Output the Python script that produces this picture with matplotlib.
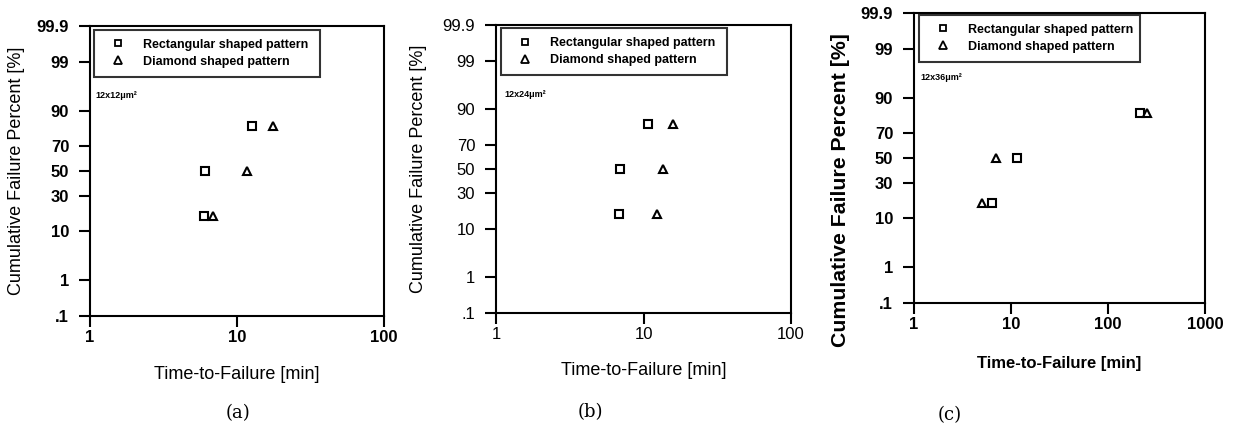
import numpy as np
import matplotlib
matplotlib.use("Agg")
import matplotlib.pyplot as plt
from matplotlib.lines import Line2D
from statistics import NormalDist

plt.rcParams['font.family'] = ['Liberation Sans', 'DejaVu Sans']

# ---------------- data ----------------
panel_ids = ['(a)', '(b)', '(c)']
panel_sizes = ['12x12μm²', '12x24μm²', '12x36μm²']
cum_percent = [16.7, 50.0, 83.3]

rect_a = [6.0, 6.1, 12.6]
diam_a = [6.9, 11.7, 17.5]
rect_b = [6.86, 6.96, 10.8]
diam_b = [12.3, 13.5, 15.9]
rect_c = [6.4, 11.6, 213.0]
diam_c = [5.0, 7.0, 250.0]

y_ticks = [0.1, 1, 10, 30, 50, 70, 90, 99, 99.9]
y_tick_labels = ['.1', '1', '10', '30', '50', '70', '90', '99', '99.9']
x_ticks_ab = [1, 10, 100]
x_ticks_c = [1, 10, 100, 1000]
legend_labels = ['Rectangular shaped pattern', 'Diamond shaped pattern']
xlabel = 'Time-to-Failure [min]'
ylabel = 'Cumulative Failure Percent [%]'

# -------------- normal probability scale --------------
_nd = NormalDist()
_ppf = np.vectorize(_nd.inv_cdf, otypes=[float])
_cdf = np.vectorize(_nd.cdf, otypes=[float])


def fwd(p):
    p = np.asarray(p, dtype=float)
    q = np.clip(p / 100.0, 1e-9, 1 - 1e-9)
    return _ppf(q)


def inv(z):
    return _cdf(np.asarray(z, dtype=float)) * 100.0


W, H = 1240, 433
fig = plt.figure(figsize=(W / 100, H / 100), dpi=100)


def px_axes(left, right, top, bottom):
    return fig.add_axes([left / W, 1 - bottom / H, (right - left) / W, (bottom - top) / H])


specs = [
    dict(box=(90, 384, 26, 316), rect=rect_a, diam=diam_a, xt=x_ticks_ab, xlim=(1, 100),
         tickw='bold', labw='normal', ylfs=13, xlfs=13, ylx=-0.249, yly=0.5, xly=-0.203,
         leg=(0.014, 0.986, 0.768), ann=(0.02, 0.762), pl=(238, 413)),
    dict(box=(496, 791, 25, 313), rect=rect_b, diam=diam_b, xt=x_ticks_ab, xlim=(1, 100),
         tickw='normal', labw='normal', ylfs=13, xlfs=13, ylx=-0.264, yly=0.5, xly=-0.198,
         leg=(0.017, 0.989, 0.765), ann=(0.03, 0.759), pl=(590, 412)),
    dict(box=(914, 1205, 13, 303), rect=rect_c, diam=diam_c, xt=x_ticks_c, xlim=(1, 1000),
         tickw='bold', labw='bold', ylfs=15.3, xlfs=12, ylx=-0.251, yly=0.39, xly=-0.207,
         leg=(0.017, 0.993, 0.76), ann=(0.023, 0.776), pl=(950, 415)),
]

for i, s in enumerate(specs):
    ax = px_axes(*s['box'])
    ax.set_xscale('log')
    ax.set_yscale('function', functions=(fwd, inv))
    ax.plot(s['rect'], cum_percent, linestyle='none', marker='s', markersize=5.8,
            markerfacecolor='white', markeredgecolor='black', markeredgewidth=1.5, clip_on=False)
    ax.plot(s['diam'], cum_percent, linestyle='none', marker='^', markersize=6.3,
            markerfacecolor='white', markeredgecolor='black', markeredgewidth=1.5, clip_on=False)
    ax.set_xlim(*s['xlim'])
    ax.set_ylim(0.1, 99.9)
    ax.set_xticks(s['xt'])
    ax.set_xticklabels([str(v) for v in s['xt']])
    ax.xaxis.set_minor_locator(matplotlib.ticker.NullLocator())
    ax.set_yticks(y_ticks)
    ax.set_yticklabels(y_tick_labels)
    ax.yaxis.set_minor_locator(matplotlib.ticker.NullLocator())
    ax.tick_params(axis='both', direction='out', length=8, width=1.5, labelsize=12)
    ax.tick_params(axis='y', pad=7)
    ax.tick_params(axis='x', pad=2)
    for lab in ax.get_xticklabels() + ax.get_yticklabels():
        lab.set_fontweight(s['tickw'])
    for sp in ax.spines.values():
        sp.set_linewidth(1.5)

    ax.text(0.5, s['xly'], xlabel, transform=ax.transAxes, ha='center', va='center',
            fontsize=s['xlfs'], fontweight=s['labw'])
    ax.text(s['ylx'], s['yly'], ylabel, transform=ax.transAxes, ha='center', va='center',
            rotation=90, fontsize=s['ylfs'], fontweight=s['labw'])

    handles = [Line2D([], [], linestyle='none', marker='s', markersize=4.8, markerfacecolor='white',
                      markeredgecolor='black', markeredgewidth=1.3),
               Line2D([], [], linestyle='none', marker='^', markersize=5.2, markerfacecolor='white',
                      markeredgecolor='black', markeredgewidth=1.3)]
    lx, ly, lw = s['leg']
    leg = ax.legend(handles, legend_labels, loc='upper left', bbox_to_anchor=(lx, ly - 0.2, lw, 0.2),
                    mode='expand', borderaxespad=0, frameon=True, fancybox=False,
                    prop={'size': 9, 'weight': 'bold'}, borderpad=0.7, labelspacing=0.4,
                    handlelength=2.5, handletextpad=0.7)
    leg.get_frame().set_edgecolor('black')
    leg.get_frame().set_linewidth(1.5)

    ax.text(s['ann'][0], s['ann'][1], panel_sizes[i], transform=ax.transAxes, ha='left',
            va='center', fontsize=6.5, fontweight='bold')

    fig.text(s['pl'][0] / W, 1 - s['pl'][1] / H, panel_ids[i], ha='center', va='center',
             fontsize=13, family=['DejaVu Serif'])

fig.savefig('out.png', dpi=100)
